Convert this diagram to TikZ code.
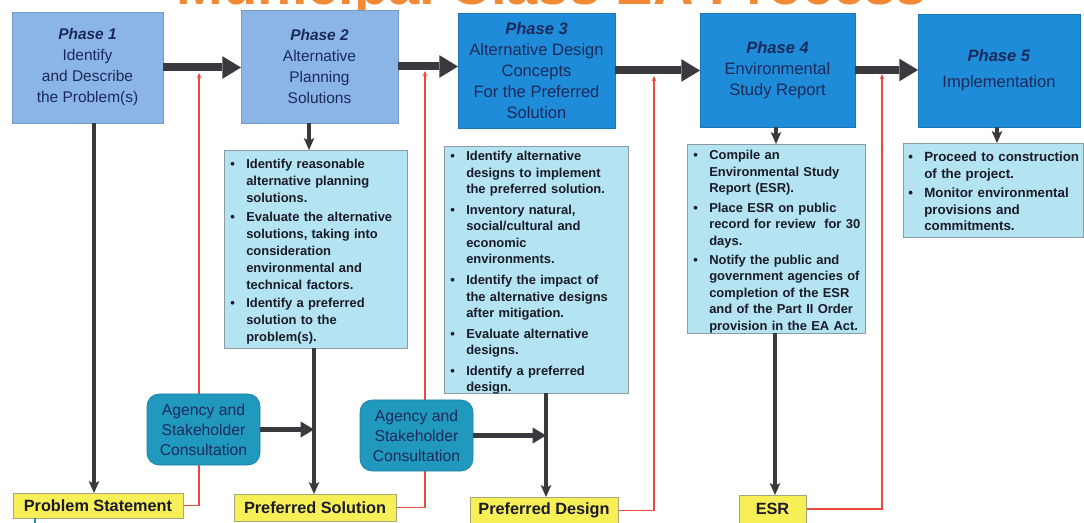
\documentclass[tikz,border=0pt]{standalone}
\usepackage{fontspec}
\setmainfont{Liberation Sans}
\usetikzlibrary{arrows.meta}

\definecolor{phaselight}{HTML}{8AB5E6}
\definecolor{phasedark}{HTML}{1E8CD8}
\definecolor{navy}{HTML}{1B2A5A}
\definecolor{listfill}{HTML}{B4E4F1}
\definecolor{listedge}{HTML}{8A9BA3}
\definecolor{consfill}{HTML}{2199BE}
\definecolor{consedge}{HTML}{1C7E9C}
\definecolor{outfill}{HTML}{F6EF55}
\definecolor{outedge}{HTML}{A9A47C}
\definecolor{fbred}{HTML}{E8483E}
\definecolor{flowgray}{HTML}{3A3A3E}
\definecolor{titleorange}{HTML}{F28A35}
\definecolor{inktext}{HTML}{1A1A28}
\definecolor{tealline}{HTML}{2A8AB0}

\pgfdeclarelayer{behind}
\pgfsetlayers{behind,main}

% bulleted entries with a hanging indent; lines are broken with \newline
\newlength\bulind \setlength\bulind{12pt}
\newlength\itemgap \setlength\itemgap{2pt}
\newcommand\bul[1]{\par\noindent\hangindent=\bulind\hangafter=1\hbox to\bulind{\textbullet\hfil}#1\par\vskip\itemgap}

\tikzset{
  pxbox/.style 2 args={minimum width=#1*0.75pt,minimum height=#2*0.75pt},
  phase/.style={inner sep=0pt,outer sep=0pt,align=center,text=navy},
  phaselt/.style={phase,fill=phaselight,draw=phaselight!85!black,line width=0.3pt,
    font=\fontsize{11.6}{15.75}\selectfont},
  phasedk/.style={phase,fill=phasedark,draw=phasedark!85!black,line width=0.3pt,
    font=\fontsize{12.4}{15.75}\selectfont},
  listbox/.style={fill=listfill,draw=listedge,line width=0.6pt,inner sep=0pt,outer sep=0pt},
  listtext/.style={anchor=north west,inner sep=0pt,text=inktext},
  outbox/.style={fill=outfill,draw=outedge,line width=0.5pt,inner sep=0pt,outer sep=0pt,
    text=inktext,font=\bfseries\fontsize{12.2}{14}\selectfont},
  consult/.style={fill=consfill,draw=consedge,line width=0.5pt,rounded corners=9pt,
    inner sep=0pt,outer sep=0pt,align=center,text=navy,
    font=\fontsize{11.8}{15}\selectfont},
  bigflow/.style={draw=flowgray,line width=6pt,
    -{Triangle[length=14pt,width=17pt,line width=0pt]}},
  sideflow/.style={draw=flowgray,line width=4.2pt,
    -{Triangle[length=10pt,width=12pt,line width=0pt]}},
  downflow/.style={draw=flowgray,line width=2.4pt,
    -{Stealth[length=9pt,width=8pt,inset=2pt,line width=0pt]}},
  feedback/.style={draw=fbred,line width=0.9pt,
    -{Stealth[length=4pt,width=3.5pt,line width=0pt]}}
}

\begin{document}
\begin{tikzpicture}[x=0.75pt,y=-0.75pt]
\useasboundingbox (0,0) rectangle (1084,523);
\clip (0,0) rectangle (1084,523);

% title, mostly above the page edge
\node[anchor=base,inner sep=0pt,text=titleorange,
  font=\bfseries\fontsize{42}{42}\selectfont] (title) at (552,4.5) {Municipal Class EA Process};

% phases
\node[phaselt,pxbox={151}{111}] (p1) at (87.5,67.5)
  {\textbf{\textit{Phase 1}}\\Identify\\and Describe\\the Problem(s)};
\node[phaselt,pxbox={157}{113}] (p2) at (319.5,66.5)
  {\textbf{\textit{Phase 2}}\\Alternative\\Planning\\Solutions};
\node[phasedk,pxbox={157}{115}] (p3) at (536.5,70.5)
  {\textbf{\textit{Phase 3}}\\Alternative Design\\Concepts\\For the Preferred\\Solution};
\node[phasedk,pxbox={155}{114}] (p4) at (777.5,70)
  {\textbf{\textit{Phase 4}}\\Environmental\\Study Report};
\node[phasedk,pxbox={162}{113}] (p5) at (999,70.5)
  {\textbf{\textit{Phase 5}}\\[4pt]Implementation};

% task lists
\node[listbox,pxbox={183}{198}] (b2) at (315.5,249) {};
\node[listbox,pxbox={184}{247}] (b3) at (536,269.5) {};
\node[listbox,pxbox={178}{189}] (b4) at (776,238.5) {};
\node[listbox,pxbox={180}{94}] (b5) at (993,190) {};

\node[listtext,text width=135pt,font=\bfseries\fontsize{9.7}{12.75}\selectfont]
  (t2) at ([shift={(6,1.5)}]b2.north west) {\setlength\itemgap{1pt}%
  \bul{Identify reasonable\newline alternative planning\newline solutions.}
  \bul{Evaluate the alternative\newline solutions, taking into\newline consideration\newline environmental and\newline technical factors.}
  \bul{Identify a preferred\newline solution to the\newline\rule{0pt}{11.5pt}problem(s).}};
\node[listtext,text width=135pt,font=\bfseries\fontsize{9.7}{12.4}\selectfont]
  (t3) at ([shift={(6,-2)}]b3.north west) {\setlength\itemgap{3pt}%
  \bul{Identify alternative\newline designs to implement\newline the preferred solution.}
  \bul{Inventory natural,\newline social/cultural and\newline economic\newline environments.}
  \bul{Identify the impact of\newline the alternative designs\newline after mitigation.}
  \bul{Evaluate alternative\newline designs.}
  \bul{Identify a preferred\newline design.}};
\node[listtext,text width=132pt,font=\bfseries\fontsize{9.7}{12.4}\selectfont]
  (t4) at ([shift={(6,-1)}]b4.north west) {\setlength\itemgap{2pt}%
  \bul{Compile an\newline Environmental Study\newline Report (ESR).}
  \bul{Place ESR on public\newline record for review\ \ for 30\newline days.}
  \bul{Notify the public and\newline government agencies of\newline completion of the ESR\newline and of the Part II Order\newline provision in the EA Act.}};
\node[listtext,text width=135pt,font=\bfseries\fontsize{10}{12.4}\selectfont]
  (t5) at ([shift={(5,2)}]b5.north west) {\setlength\itemgap{2.3pt}%
  \bul{Proceed to construction\newline of the project.}
  \bul{Monitor environmental\newline provisions and\newline commitments.}};

% consultation
\node[consult,pxbox={113}{71}] (c1) at (203.5,429.5) {Agency and\\Stakeholder\\Consultation};
\node[consult,pxbox={113}{71}] (c2) at (416.5,435.5) {Agency and\\Stakeholder\\Consultation};

% outputs
\node[outbox,pxbox={170}{25}] (ps) at (98,505.5) {Problem Statement};
\node[outbox,pxbox={162}{27}] (sol) at (315,507.5) {Preferred Solution};
\node[outbox,pxbox={148}{27}] (des) at (544,510.5) {Preferred Design};
\node[outbox,pxbox={67}{28}] (esr) at (772.5,509) {ESR};

% phase to phase
\draw[bigflow] (p1.east) -- (p1.east -| p2.west);
\draw[bigflow] (p2.east) -- (p2.east -| p3.west);
\draw[bigflow] (p3.east) -- (p3.east -| p4.west);
\draw[bigflow] (p4.east) -- (p4.east -| p5.west);

% downward flow
\coordinate (x1) at (94,0);
\coordinate (x2a) at (309,0);
\coordinate (x2b) at (314,0);
\coordinate (x3) at (546,0);
\coordinate (x4a) at (776,0);
\coordinate (x4b) at (775,0);
\coordinate (x5) at (997,0);
\draw[downflow] (p1.south -| x1) -- (ps.north -| x1);
\draw[downflow] (p2.south -| x2a) -- (b2.north -| x2a);
\draw[downflow] (b2.south -| x2b) -- (sol.north -| x2b);
\draw[downflow] (b3.south -| x3) -- (des.north -| x3);
\draw[downflow] (p4.south -| x4a) -- (b4.north -| x4a);
\draw[downflow] (b4.south -| x4b) -- (esr.north -| x4b);
\draw[downflow] (p5.south -| x5) -- (b5.north -| x5);

% consultation input
\draw[sideflow] (c1.east) -- (c1.east -| x2b);
\draw[sideflow] (c2.east) -- (c2.east -| x3);

% feedback lines
\coordinate (r1) at (199,73);
\coordinate (r2) at (425,71);
\coordinate (r3) at (654,76);
\coordinate (r4) at (882,74);
\begin{pgfonlayer}{behind}
\draw[feedback] (ps.east) -| (r1);
\draw[feedback] (sol.east) -| (r2);
\draw[feedback] (des.east) -| (r3);
\draw[feedback] (esr.east) -| (r4);
\end{pgfonlayer}

% line leaving the bottom edge
\coordinate (tl) at (35,523);
\draw[tealline,line width=1pt] (ps.south -| tl) -- (tl);
\end{tikzpicture}
\end{document}
